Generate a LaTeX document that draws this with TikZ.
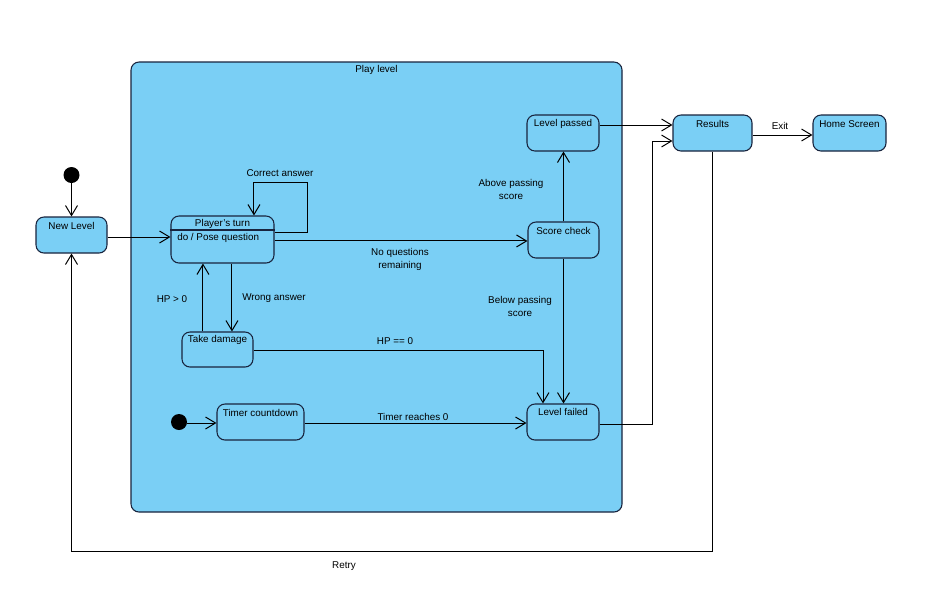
\documentclass[tikz,border=0pt]{standalone}
\usepackage{fontspec}
\setmainfont{Liberation Sans}
\usetikzlibrary{arrows.meta,fit}
\definecolor{stfill}{RGB}{122,207,245}
\definecolor{stline}{RGB}{24,36,62}
\tikzset{
  statebox/.style={draw=stline, fill=stfill, line width=0.8pt, rounded corners=6pt, inner sep=0pt},
  startdot/.style={circle, fill=black, minimum size=12pt, inner sep=0pt},
  txt/.style={font=\fontsize{7.4}{9.75}\selectfont, inner sep=0pt, align=center, text=black},
  arr/.style={draw=black, line width=0.75pt, -{Straight Barb[length=7.5pt,width=9pt,line width=0.75pt]}},
  conn/.style={draw=black, line width=0.75pt}
}
\begin{document}
\begin{tikzpicture}[x=0.75pt, y=-0.75pt]
\useasboundingbox[fill=white] (0,0) rectangle (944,612);

% composite state
\node[statebox, rounded corners=6pt, fit={(131,62)(622,512)}] (play) {};
\node[txt] (play-t) at (376.5,70) {Play level};

% states
\node[statebox, fit={(36,217)(107,253)}] (newlevel) {};
\node[statebox, fit={(171,216)(274,263)}] (player) {};
\draw[stline, line width=0.8pt] (player.west |- 0,230) -- (player.east |- 0,230);
\node[statebox, fit={(528,222)(599,258)}] (score) {};
\node[statebox, fit={(527,115)(599,151)}] (passed) {};
\node[statebox, fit={(527,404)(599,440)}] (failed) {};
\node[statebox, fit={(182,332)(253,367)}] (take) {};
\node[statebox, fit={(217,404)(304,440)}] (timer) {};
\node[statebox, fit={(673,115)(752,151)}] (results) {};
\node[statebox, fit={(813,115)(886,151)}] (home) {};

\node[startdot] (start1) at (71.5,175) {};
\node[startdot] (start2) at (179,422) {};

% state names
\node[txt] (newlevel-t) at (71.5,226) {New Level};
\node[txt] (player-t) at (222.5,224) {Player's turn};
\node[txt, anchor=west] (player-d) at (177,238) {do / Pose question};
\node[txt] (score-t) at (563.5,231) {Score check};
\node[txt] (passed-t) at (563,124) {Level passed};
\node[txt] (failed-t) at (563,412) {Level failed};
\node[txt] (take-t) at (217.5,340) {Take damage};
\node[txt] (timer-t) at (260.5,413) {Timer countdown};
\node[txt] (results-t) at (712.5,124) {Results};
\node[txt] (home-t) at (849.5,124) {Home Screen};

% transitions
\draw[arr] (start1) -- (newlevel);
\draw[arr] ([yshift=-1.5pt]newlevel.east) -- ([yshift=-1.5pt]newlevel.east -| player.west);
\draw[arr] ([yshift=4.9pt]player.east) -- ++(33,0) -- ++(0,-50) -| ([xshift=23.6pt]player.north);
\draw[arr] ([yshift=-1.1pt]player.east) -- ([yshift=-1.1pt]player.east -| score.west);
\draw[arr] (score.north) -- (score.north |- passed.south);
\draw[arr] (score.south) -- (score.south |- failed.north);
\draw[arr] ([xshift=7.1pt]player.south) -- ([xshift=7.1pt]player.south |- take.north);
\draw[arr] ([xshift=-10.9pt]take.north) -- ([xshift=-10.9pt]take.north |- player.south);
\draw[arr] ([yshift=-0.9pt]take.east) -| ([xshift=-15pt]failed.north);
\draw[arr] ([yshift=-0.75pt]start2.east) -- ([yshift=-0.75pt]start2.east -| timer.west);
\draw[arr] ([yshift=-0.75pt]timer.east) -- ([yshift=-0.75pt]timer.east -| failed.west);
\draw[arr] ([yshift=6pt]passed.east) -- ([yshift=6pt]passed.east -| results.west);
\draw[arr] ([yshift=-1.5pt]failed.east) -- ++(53,0) |- ([yshift=-6pt]results.west);
\draw[arr] ([yshift=-1.5pt]results.east) -- ([yshift=-1.5pt]results.east -| home.west);
\draw[arr] (results.south) -- ++(0,400) -| (newlevel.south);

% guards and events
\node[txt] (l-correct) at (280,173) {Correct answer};
\node[txt] (l-noq) at (400,259.5) {No questions\\remaining};
\node[txt] (l-above) at (511,189.5) {Above passing\\score};
\node[txt] (l-below) at (520,306.5) {Below passing\\score};
\node[txt] (l-wrong) at (274,298) {Wrong answer};
\node[txt] (l-hpgt) at (172,299) {HP > 0};
\node[txt] (l-hpeq) at (395,341) {HP == 0};
\node[txt] (l-timer) at (413,416.5) {Timer reaches 0};
\node[txt] (l-exit) at (780,126) {Exit};
\node[txt] (l-retry) at (344,566) {Retry};
\end{tikzpicture}
\end{document}
